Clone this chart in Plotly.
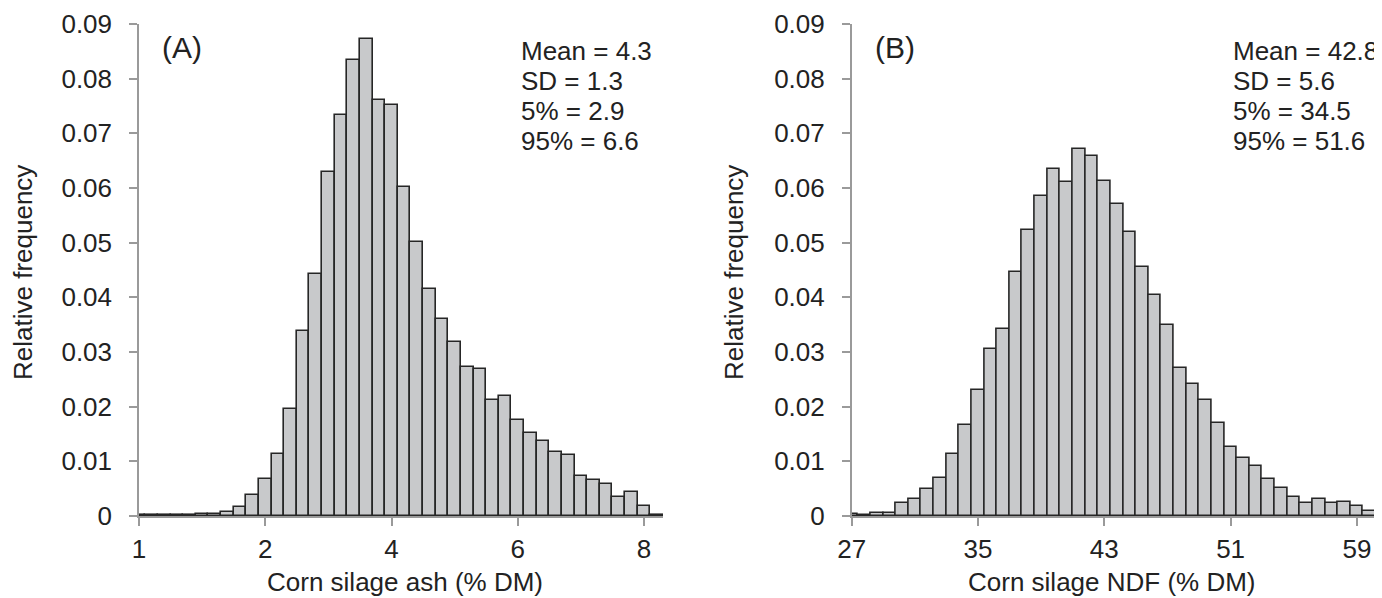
import plotly.graph_objects as go

W, H = 1382, 598
OX, OY = 8, 8  # page body margin of the browser

# ---- data ----
ash_freq = [0.0002, 0.0001, 0.0002, 0.0001, 0.0001, 0.0003, 0.0003, 0.0007, 0.0017, 0.0038,
            0.0068, 0.0114, 0.0196, 0.0339, 0.0443, 0.0630, 0.0733, 0.0834, 0.0873, 0.0761,
            0.0752, 0.0602, 0.0501, 0.0416, 0.0361, 0.0318, 0.0272, 0.0269, 0.0212, 0.0220,
            0.0175, 0.0152, 0.0138, 0.0117, 0.0111, 0.0074, 0.0065, 0.0059, 0.0034, 0.0043,
            0.0019, 0.0001]
ash_tick_pos = [0, 10, 20, 30, 40]
ash_tick_labels = ["1", "2", "4", "6", "8"]
ash_stats = ["Mean = 4.3", "SD = 1.3", "5% = 2.9", "95% = 6.6"]

ndf_freq = [0.0004, 0.0001, 0.0005, 0.0005, 0.0024, 0.0031, 0.0049, 0.0069, 0.0113, 0.0166,
            0.0230, 0.0305, 0.0342, 0.0446, 0.0523, 0.0585, 0.0635, 0.0611, 0.0672, 0.0658,
            0.0612, 0.0571, 0.0519, 0.0455, 0.0404, 0.0349, 0.0270, 0.0241, 0.0213, 0.0170,
            0.0126, 0.0107, 0.0092, 0.0067, 0.0052, 0.0034, 0.0023, 0.0031, 0.0023, 0.0026,
            0.0018, 0.0010, 0.0007]
ndf_tick_pos = [0, 10, 20, 30, 40]
ndf_tick_labels = ["27", "35", "43", "51", "59"]
ndf_stats = ["Mean = 42.8", "SD = 5.6", "5% = 34.5", "95% = 51.6"]

y_ticks = [0, 0.01, 0.02, 0.03, 0.04, 0.05, 0.06, 0.07, 0.08, 0.09]
y_tick_labels = ["0", "0.01", "0.02", "0.03", "0.04", "0.05", "0.06", "0.07", "0.08", "0.09"]

FONT = "Liberation Sans, Arial, sans-serif"
TXT = "#222222"
AXC = "#9a9a9a"
FS = 26


def xp(px):
    return (px - OX) / W


def yp(py):
    return 1 - (py - OY) / H


fig = go.Figure()
bar_style = dict(marker=dict(color="#c8c9cb", line=dict(color="#262626", width=1.6)),
                 width=1.0, showlegend=False, hoverinfo="x+y")
fig.add_trace(go.Bar(x=list(range(len(ash_freq))), y=ash_freq, xaxis="x", yaxis="y", **bar_style))
fig.add_trace(go.Bar(x=list(range(len(ndf_freq))), y=ndf_freq, xaxis="x2", yaxis="y2", **bar_style))

ydom = [yp(516), yp(24)]
common_x = dict(showline=True, linecolor=AXC, linewidth=1.5, ticks="outside", ticklen=8,
                tickcolor=AXC, tickwidth=1.5, showgrid=False, zeroline=False, automargin=False,
                tickfont=dict(family=FONT, size=FS, color=TXT), ticklabelstandoff=1)
common_y = dict(showline=True, linecolor=AXC, linewidth=1.5, ticks="outside", ticklen=8,
                tickcolor=AXC, tickwidth=1.5, showgrid=False, zeroline=False, automargin=False,
                range=[0, 0.09], tickvals=y_ticks, ticktext=y_tick_labels, domain=ydom,
                tickfont=dict(family=FONT, size=FS, color=TXT), ticklabelstandoff=12)

fig.update_layout(
    width=W, height=H, autosize=False,
    margin=dict(l=0, r=0, t=0, b=0, pad=0),
    paper_bgcolor="white", plot_bgcolor="white",
    bargap=0,
    font=dict(family=FONT, size=FS, color=TXT),
    xaxis=dict(domain=[xp(139), xp(663)], range=[0, 41.5], anchor="y",
               tickvals=ash_tick_pos, ticktext=ash_tick_labels, **common_x),
    yaxis=dict(anchor="x", **common_y),
    xaxis2=dict(domain=[xp(851.7), xp(1382)], range=[0, 41.99], anchor="y2",
                tickvals=ndf_tick_pos, ticktext=ndf_tick_labels, **common_x),
    yaxis2=dict(anchor="x2", **common_y),
)

ann = []


def txt(x, y, s, xa="left", ya="middle", angle=0, size=FS):
    ann.append(dict(x=xp(x), y=yp(y), xref="paper", yref="paper", text=s, showarrow=False,
                    xanchor=xa, yanchor=ya, textangle=angle,
                    font=dict(family=FONT, size=size, color=TXT)))


# panel letters
txt(160, 48, "(A)", size=30)
txt(873, 48, "(B)", size=30)
# stats
for i, s in enumerate(ash_stats):
    txt(519, 51 + 30 * i, s)
for i, s in enumerate(ndf_stats):
    txt(1231, 51 + 30 * i, s)
# axis titles
txt(405, 582, "Corn silage ash (% DM)", xa="center")
txt(1112, 582, "Corn silage NDF (% DM)", xa="center")
txt(23, 273, "Relative frequency", xa="center", angle=-90)
txt(734, 273, "Relative frequency", xa="center", angle=-90)

fig.update_layout(annotations=ann)
fig.write_html("out.html")
